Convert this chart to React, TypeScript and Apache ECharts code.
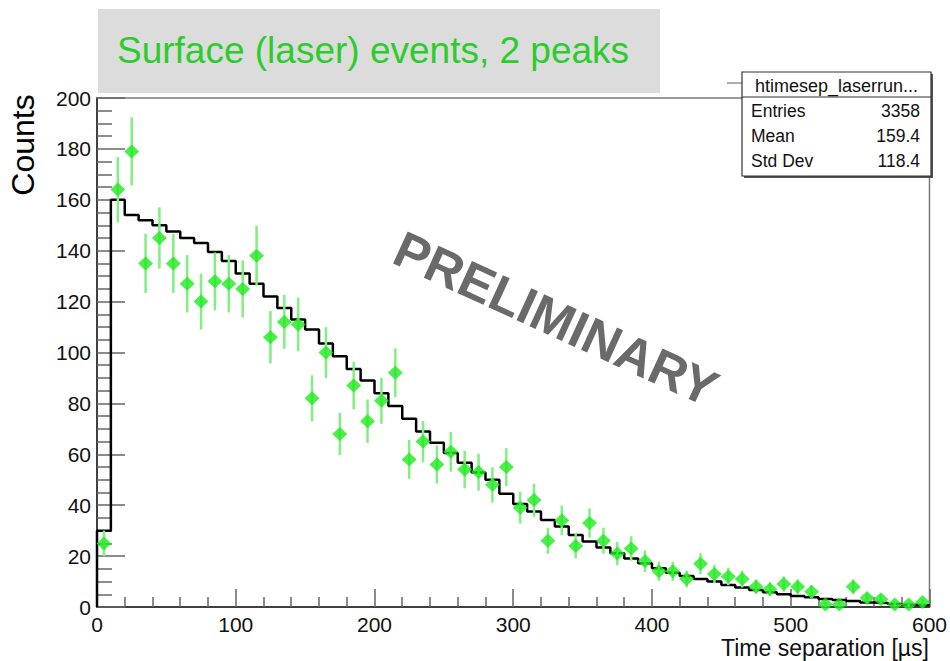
import React, { useEffect, useRef } from "react";
import * as echarts from "echarts";

// Histogram (black step line), one value per 10 µs bin from 0 to 600
const histValues = [
  30, 160, 154, 152, 150, 147.5, 145, 143, 139.5, 136,
  131, 127, 122, 117.5, 113, 109, 103.5, 98.5, 93.5, 89,
  84, 79, 74, 69, 64.5, 60.5, 56.7, 52.8, 50, 44.5,
  40.5, 37.5, 34.2, 31.6, 28.3, 25.7, 23.4, 21.1, 19.1, 17.2,
  15.2, 13.5, 12.2, 11, 10, 8.6, 7.7, 6.7, 5.8, 5,
  4.3, 3.8, 3.1, 2.75, 2.4, 1.8, 1.6, 1.2, 0.9, 0.7,
];

// Data points (green diamonds) at bin centres
const dataCounts = [
  25, 164, 179, 135, 145, 135, 127, 120, 128, 127,
  125, 138, 106, 112, 111, 82, 100, 68, 87, 73,
  81, 92, 58, 65, 56, 61, 54, 53, 48, 55,
  39, 42, 26, 34, 24, 33, 26, 21, 23, 18,
  14, 14, 11, 17, 13, 12, 11, 8, 7, 9,
  8, 6, 1, 1, 8, 3.5, 3, 1, 1, 2,
];

const binWidth = 10;
const xTicks = [0, 100, 200, 300, 400, 500, 600];
const yTicks = [0, 20, 40, 60, 80, 100, 120, 140, 160, 180, 200];

const statsTitle = "htimesep_laserrun...";
const statsRows = [
  ["Entries", "3358"],
  ["Mean", "159.4"],
  ["Std Dev", "118.4"],
];

const FONT = "Liberation Sans, Arial, Helvetica, sans-serif";
const GREEN = "#1fea1f";
const GREEN_ERR = "#80f080";

export default function App() {
  const ref = useRef<HTMLDivElement>(null);

  useEffect(() => {
    if (!ref.current) return;
    const chart = echarts.init(ref.current, null, { renderer: "svg" });

    const stepData: number[][] = [[0, 0]];
    histValues.forEach((v, i) => stepData.push([i * binWidth, v]));
    stepData.push([histValues.length * binWidth, histValues[histValues.length - 1]]);

    const points = dataCounts.map((v, i) => [i * binWidth + binWidth / 2, v]);

    const statsX = 742, statsY = 72, statsW = 189, statsH = 104;

    const option: any = {
      animation: false,
      backgroundColor: "#ffffff",
      grid: {
        left: 97, top: 98, width: 833, height: 509,
        show: true, borderColor: "#7a7a7a", borderWidth: 1.5, backgroundColor: "transparent",
      },
      xAxis: {
        type: "value",
        min: xTicks[0],
        max: xTicks[xTicks.length - 1],
        interval: 100,
        axisLine: { show: true, onZero: false, lineStyle: { color: "#222", width: 1.5 } },
        axisTick: { show: true, inside: true, length: 18, lineStyle: { color: "#666", width: 1.5 } },
        minorTick: { show: true, splitNumber: 5, length: 10, lineStyle: { color: "#666", width: 1.5 } },
        splitLine: { show: false },
        axisLabel: { color: "#111", fontSize: 21, fontFamily: FONT, margin: 7 },
      },
      yAxis: {
        type: "value",
        min: yTicks[0],
        max: yTicks[yTicks.length - 1],
        interval: 20,
        axisLine: { show: true, onZero: false, lineStyle: { color: "#222", width: 1.5 } },
        axisTick: { show: true, inside: true, length: 28, lineStyle: { color: "#666", width: 1.5 } },
        minorTick: { show: true, splitNumber: 4, length: 15, lineStyle: { color: "#666", width: 1.5 } },
        splitLine: { show: false },
        axisLabel: { color: "#111", fontSize: 21, fontFamily: FONT, margin: 6 },
      },
      series: [
        {
          type: "line",
          data: stepData,
          step: "end",
          showSymbol: false,
          lineStyle: { color: "#000", width: 2.5 },
          z: 3,
        },
        {
          type: "custom",
          data: points,
          clip: true,
          z: 4,
          renderItem: (params: any, api: any) => {
            const x = api.value(0);
            const v = api.value(1);
            const e = Math.sqrt(v);
            const p1 = api.coord([x, Math.max(0, v - e)]);
            const p2 = api.coord([x, Math.min(200, v + e)]);
            return {
              type: "line",
              shape: { x1: p1[0], y1: p1[1], x2: p2[0], y2: p2[1] },
              style: { stroke: GREEN_ERR, lineWidth: 2.5 },
            };
          },
        },
        {
          type: "scatter",
          data: points,
          symbol: "diamond",
          symbolSize: [15, 14],
          itemStyle: { color: GREEN },
          z: 5,
        },
      ],
      graphic: [
        {
          type: "rect",
          shape: { x: 98, y: 9, width: 562, height: 84 },
          style: { fill: "#dcdcdc" },
          z: 1,
        },
        {
          type: "text",
          x: 117, y: 50,
          style: {
            text: "Surface (laser) events, 2 peaks",
            font: `37px ${FONT}`,
            fill: "#2bcc2b",
            textVerticalAlign: "middle",
          },
          z: 2,
        },
        {
          type: "text",
          x: 23, y: 145,
          rotation: Math.PI / 2,
          style: {
            text: "Counts",
            font: `32px ${FONT}`,
            fill: "#000",
            textAlign: "center",
            textVerticalAlign: "middle",
          },
        },
        {
          type: "text",
          x: 929, y: 648,
          style: {
            text: "Time separation [µs]",
            font: `23px ${FONT}`,
            fill: "#111",
            textAlign: "right",
            textVerticalAlign: "middle",
          },
        },
        {
          type: "text",
          x: 556, y: 319,
          rotation: -0.43,
          style: {
            text: "PRELIMINARY",
            font: `bold 51px ${FONT}`,
            fill: "#6a6a6a",
            textAlign: "center",
            textVerticalAlign: "middle",
          },
          z: 10,
        },
        {
          type: "line",
          shape: { x1: 727, y1: 83, x2: statsX, y2: 83 },
          style: { stroke: "#777", lineWidth: 1.2 },
          z: 20,
        },
        {
          type: "rect",
          shape: { x: statsX + 2, y: statsY + 2, width: statsW, height: statsH },
          style: { fill: "#555" },
          z: 20,
        },
        {
          type: "rect",
          shape: { x: statsX, y: statsY, width: statsW, height: statsH },
          style: { fill: "#fff", stroke: "#333", lineWidth: 1.2 },
          z: 21,
        },
        {
          type: "line",
          shape: { x1: statsX, y1: 97, x2: statsX + statsW, y2: 97 },
          style: { stroke: "#333", lineWidth: 1.2 },
          z: 22,
        },
        {
          type: "text",
          x: statsX + statsW / 2, y: 86,
          style: {
            text: statsTitle,
            font: `18px ${FONT}`,
            fill: "#111",
            textAlign: "center",
            textVerticalAlign: "middle",
          },
          z: 22,
        },
        ...statsRows.flatMap((row, i) => [
          {
            type: "text",
            x: statsX + 9, y: 111 + i * 25,
            style: { text: row[0], font: `17.5px ${FONT}`, fill: "#111", textVerticalAlign: "middle" },
            z: 22,
          },
          {
            type: "text",
            x: statsX + statsW - 11, y: 111 + i * 25,
            style: { text: row[1], font: `17.5px ${FONT}`, fill: "#111", textAlign: "right", textVerticalAlign: "middle" },
            z: 22,
          },
        ]),
      ],
    };

    chart.setOption(option);
    return () => chart.dispose();
  }, []);

  return (
    <div
      ref={ref}
      style={{ position: "fixed", left: 0, top: 0, width: 950, height: 661, background: "#fff" }}
    />
  );
}
